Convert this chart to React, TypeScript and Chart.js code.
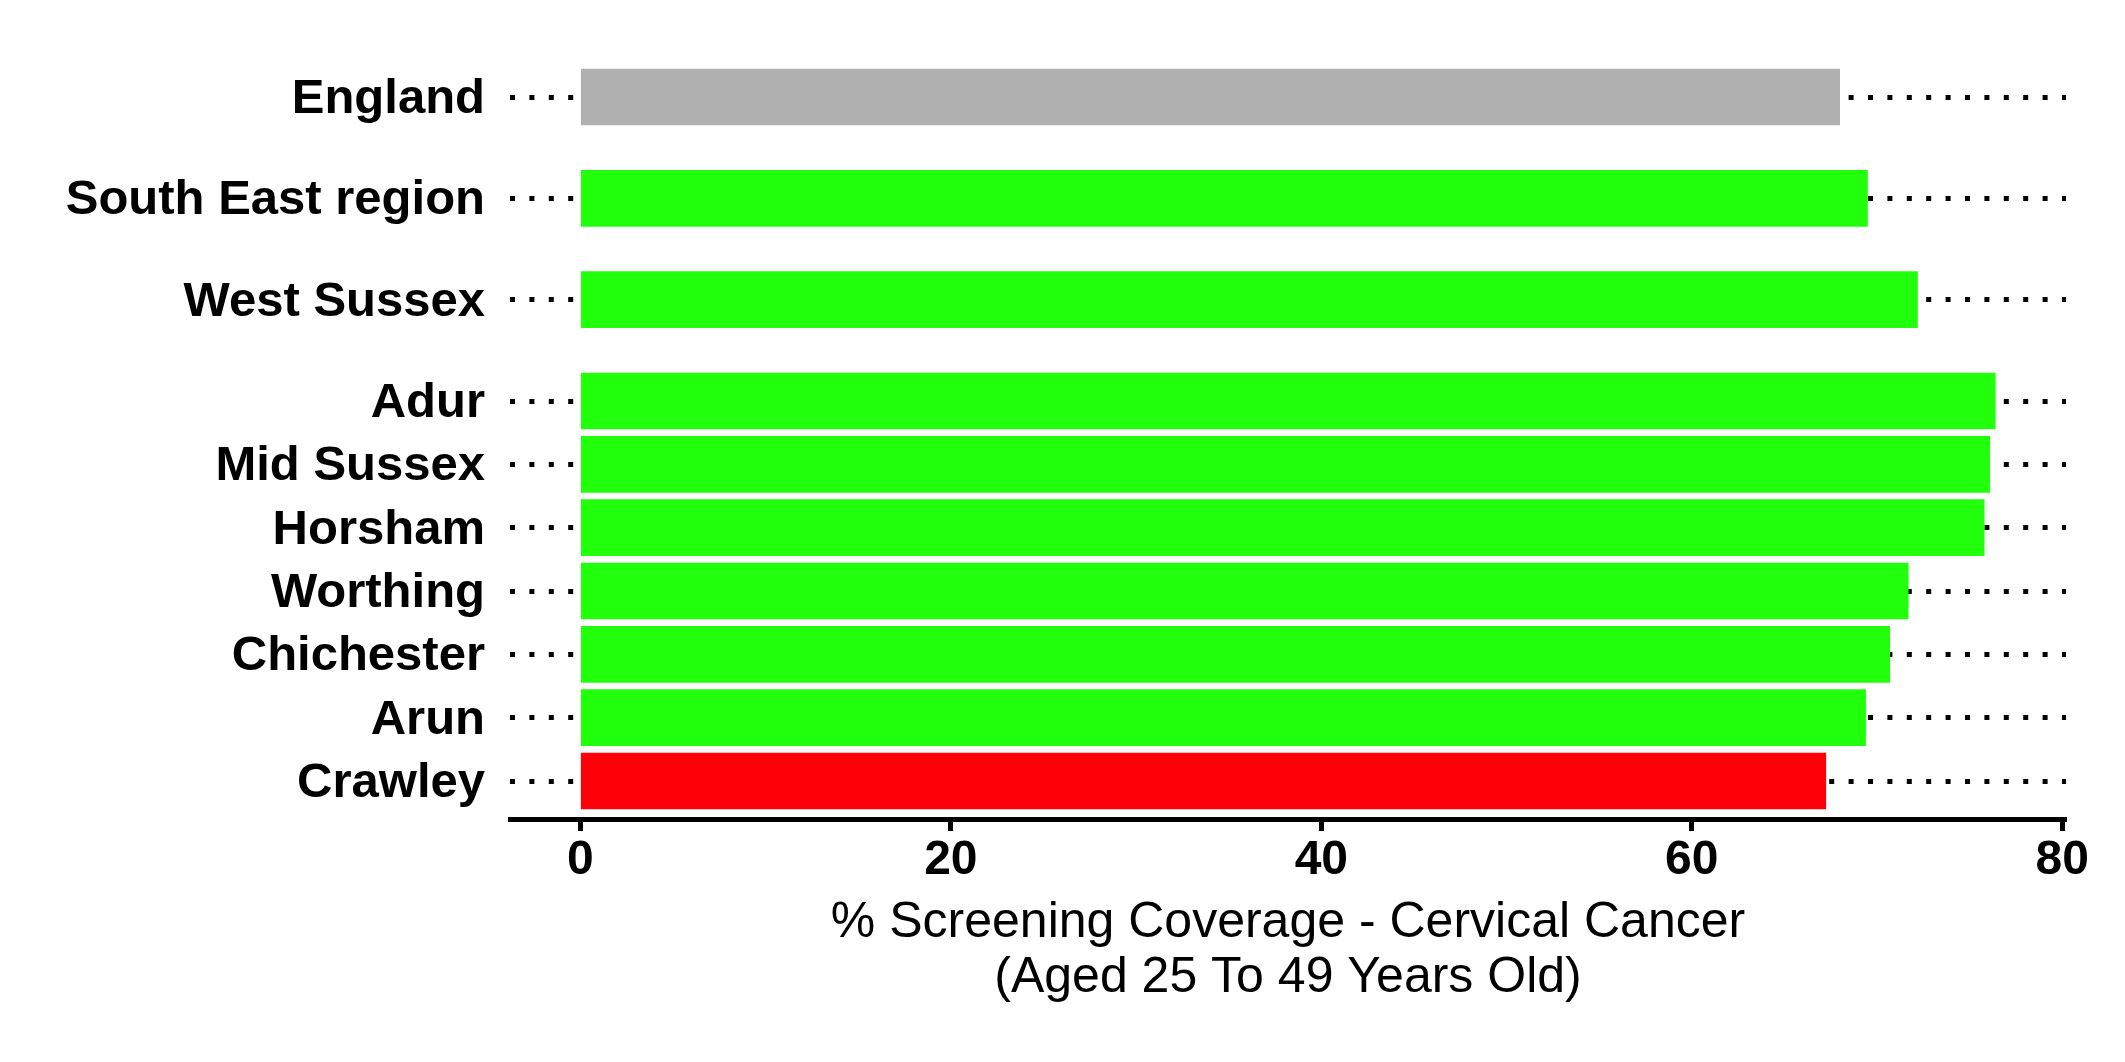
import React, { useEffect, useRef } from "react";
import { Chart, registerables } from "chart.js";

Chart.register(...registerables);

// ---- Data ----
const areas = [
  "England",
  "South East region",
  "West Sussex",
  "Adur",
  "Mid Sussex",
  "Horsham",
  "Worthing",
  "Chichester",
  "Arun",
  "Crawley",
];
const areaLevel = [
  "country",
  "region",
  "county",
  "district",
  "district",
  "district",
  "district",
  "district",
  "district",
  "district",
];
const coverage = [68.0, 69.5, 72.2, 76.4, 76.1, 75.8, 71.7, 70.7, 69.4, 67.25];
const comparison = [
  "benchmark",
  "better",
  "better",
  "better",
  "better",
  "better",
  "better",
  "better",
  "better",
  "worse",
];
const xTicks = [0, 20, 40, 60, 80];
const xTitle = ["% Screening Coverage - Cervical Cancer", "(Aged 25 To 49 Years Old)"];

// ---- Styling / layout ----
const COLORS: Record<string, string> = {
  benchmark: "#b0b0b0",
  better: "#22ff0d",
  worse: "#fe0008",
};
const GROUP_GAP = 0.6;
const FONT = "'Liberation Sans', Arial, Helvetica, sans-serif";

function computeSlots(): number[] {
  const slots: number[] = [];
  let pos = 1;
  for (let i = areas.length - 1; i >= 0; i--) {
    if (
      i < areas.length - 1 &&
      (areaLevel[i] !== "district" || areaLevel[i + 1] !== "district")
    ) {
      pos += GROUP_GAP;
    }
    slots[i] = pos;
    pos += 1;
  }
  return slots;
}

export default function App() {
  const canvasRef = useRef<HTMLCanvasElement | null>(null);

  useEffect(() => {
    document.body.style.margin = "0";
    document.body.style.overflow = "hidden";
    const canvas = canvasRef.current;
    if (!canvas) return;
    const slots = computeSlots();
    const labelFor = (v: number) => {
      const idx = slots.findIndex((s) => Math.abs(s - v) < 1e-6);
      return idx >= 0 ? areas[idx] : "";
    };

    const chart = new Chart(canvas, {
      type: "bar",
      data: {
        datasets: [
          {
            data: areas.map((_, i) => ({ x: coverage[i], y: slots[i] })),
            backgroundColor: comparison.map((c) => COLORS[c]),
            borderWidth: 0,
            categoryPercentage: 0.895,
            barPercentage: 1,
          },
        ],
      },
      options: {
        indexAxis: "y",
        animation: false,
        responsive: false,
        devicePixelRatio: 1,
        layout: { padding: { top: 59, right: 59, left: 0, bottom: 0 } },
        plugins: {
          legend: { display: false },
          tooltip: { enabled: false },
        },
        scales: {
          x: {
            type: "linear",
            position: "bottom",
            min: -3.8,
            max: 80.2,
            offset: false,
            afterBuildTicks: (axis: any) => {
              axis.ticks = xTicks.map((v) => ({ value: v }));
            },
            afterFit: (scale: any) => {
              scale.height = 243;
            },
            grid: {
              display: true,
              offset: false,
              drawOnChartArea: false,
              drawTicks: true,
              tickLength: 12,
              tickWidth: 5,
              tickColor: "#000",
              color: "#000",
            },
            border: { display: true, width: 5, color: "#000" },
            ticks: {
              color: "#000",
              padding: 6,
              autoSkip: false,
              maxRotation: 0,
              font: { family: FONT, size: 48, weight: "bold", lineHeight: 1 },
              callback: (v: any) => String(v),
            },
            title: {
              display: true,
              text: xTitle,
              color: "#000",
              font: { family: FONT, size: 50, weight: "normal", lineHeight: 55 / 50 },
              padding: { top: 0, bottom: 56.5 },
            },
          },
          y: {
            type: "linear",
            position: "left",
            min: 0.4,
            max: 12.4,
            offset: false,
            afterBuildTicks: (axis: any) => {
              axis.ticks = slots.map((v) => ({ value: v }));
            },
            afterFit: (scale: any) => {
              scale.width = 510;
            },
            grid: {
              display: true,
              offset: false,
              drawOnChartArea: true,
              drawTicks: false,
              color: "#000",
              lineWidth: 5,
            },
            border: { display: false, dash: [5, 14.4] },
            ticks: {
              color: "#000",
              padding: 25,
              labelOffset: 2.5,
              autoSkip: false,
              font: { family: FONT, size: 49, weight: "bold" },
              callback: (v: any) => labelFor(Number(v)),
            },
          },
        },
      } as any,
    });

    return () => chart.destroy();
  }, []);

  return (
    <div style={{ position: "absolute", left: 0, top: 0, width: 2125, height: 1062 }}>
      <canvas ref={canvasRef} width={2125} height={1062} style={{ display: "block" }} />
    </div>
  );
}
